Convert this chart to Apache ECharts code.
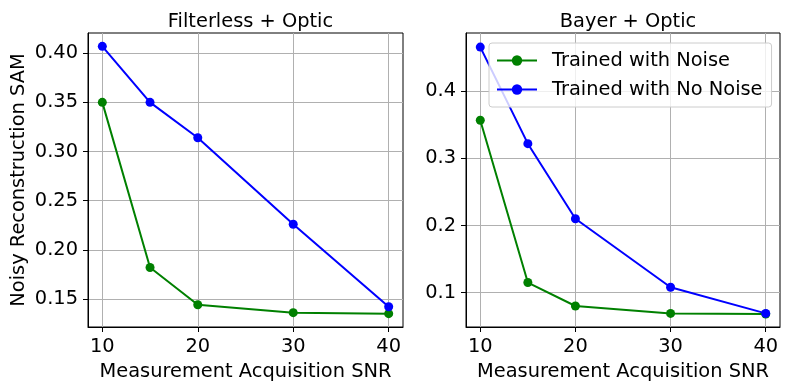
<!DOCTYPE html>
<html>
<head>
<meta charset="utf-8">
<script src="https://cdn.jsdelivr.net/npm/echarts@6/dist/echarts.min.js"></script>
<style>
  html, body { margin: 0; padding: 0; background: #fff; }
  #chart { width: 789px; height: 390px; }
</style>
</head>
<body>
<div id="chart"></div>
<script>
var snr = [10, 15, 20, 30, 40];
var xTicks = [10, 20, 30, 40];

// Filterless + Optic
var leftNoise = [0.350, 0.182, 0.144, 0.136, 0.135];
var leftNoNoise = [0.407, 0.350, 0.314, 0.226, 0.142];
var leftTicks = [0.15, 0.20, 0.25, 0.30, 0.35, 0.40];

// Bayer + Optic
var rightNoise = [0.357, 0.115, 0.080, 0.069, 0.068];
var rightNoNoise = [0.466, 0.322, 0.210, 0.108, 0.069];
var rightTicks = [0.1, 0.2, 0.3, 0.4];

var font = 'DejaVu Sans';
var fs = 19.4;

function pairs(ys) {
    return snr.map(function (x, i) { return [x, ys[i]]; });
}

function xAxisFor(idx) {
    return {
        type: 'value',
        gridIndex: idx,
        min: 8.5,
        max: 41.5,
        name: 'Measurement Acquisition SNR',
        nameLocation: 'middle',
        nameGap: 35,
        nameTextStyle: { fontFamily: font, fontSize: fs, color: '#000' },
        axisLine: { lineStyle: { color: '#000', width: 1 } },
        axisTick: { show: true, length: 5, inside: false, customValues: xTicks, lineStyle: { color: '#000' } },
        axisLabel: { customValues: xTicks, margin: 10, fontFamily: font, fontSize: fs, color: '#000' },
        splitLine: { show: true, lineStyle: { color: '#b0b0b0', width: 1 } }
    };
}

function yAxisFor(idx, min, max, ticks, digits, name) {
    return {
        type: 'value',
        gridIndex: idx,
        min: min,
        max: max,
        name: name,
        nameLocation: 'middle',
        nameGap: 60,
        nameTextStyle: { fontFamily: font, fontSize: fs, color: '#000' },
        axisLine: { show: true, lineStyle: { color: '#000', width: 1 } },
        axisTick: { show: true, length: 5, inside: false, customValues: ticks, lineStyle: { color: '#000' } },
        axisLabel: {
            customValues: ticks, margin: 10, fontFamily: font, fontSize: fs, color: '#000',
            formatter: function (v) { return v.toFixed(digits); }
        },
        splitLine: { show: true, lineStyle: { color: '#b0b0b0', width: 1 } }
    };
}

function lineSeries(name, color, idx, ys) {
    return {
        name: name,
        type: 'line',
        xAxisIndex: idx,
        yAxisIndex: idx,
        data: pairs(ys),
        symbol: 'circle',
        symbolSize: 9,
        color: color,
        lineStyle: { color: color, width: 2 },
        itemStyle: { color: color },
        animation: false
    };
}

var myChart = echarts.init(document.getElementById('chart'));

var option = {
    backgroundColor: '#fff',
    animation: false,
    title: [
        { text: 'Filterless + Optic', left: 245.5, top: 7, textAlign: 'center',
          textStyle: { fontFamily: font, fontSize: fs, fontWeight: 'normal', color: '#000' } },
        { text: 'Bayer + Optic', left: 623, top: 7, textAlign: 'center',
          textStyle: { fontFamily: font, fontSize: fs, fontWeight: 'normal', color: '#000' } }
    ],
    grid: [
        { left: 88, right: 386, top: 33, bottom: 63, show: true, borderColor: '#000', borderWidth: 1 },
        { left: 466, right: 9, top: 33, bottom: 63, show: true, borderColor: '#000', borderWidth: 1 }
    ],
    legend: {
        data: ['Trained with Noise', 'Trained with No Noise'],
        orient: 'vertical',
        left: 489,
        top: 43,
        padding: [7, 9, 7, 7],
        itemWidth: 40,
        itemHeight: 13,
        itemGap: 8,
        backgroundColor: 'rgba(255,255,255,0.8)',
        borderColor: '#cccccc',
        borderWidth: 1,
        borderRadius: 3,
        textStyle: { fontFamily: font, fontSize: fs, color: '#000', lineHeight: 21, padding: [0, 0, 0, 10] }
    },
    xAxis: [xAxisFor(0), xAxisFor(1)],
    yAxis: [
        yAxisFor(0, 0.1214, 0.4206, leftTicks, 2, 'Noisy Reconstruction SAM'),
        yAxisFor(1, 0.0487, 0.487, rightTicks, 1, '')
    ],
    series: [
        lineSeries('Trained with Noise', '#008000', 0, leftNoise),
        lineSeries('Trained with No Noise', '#0000ff', 0, leftNoNoise),
        lineSeries('Trained with Noise', '#008000', 1, rightNoise),
        lineSeries('Trained with No Noise', '#0000ff', 1, rightNoNoise)
    ]
};

myChart.setOption(option);
</script>
</body>
</html>
